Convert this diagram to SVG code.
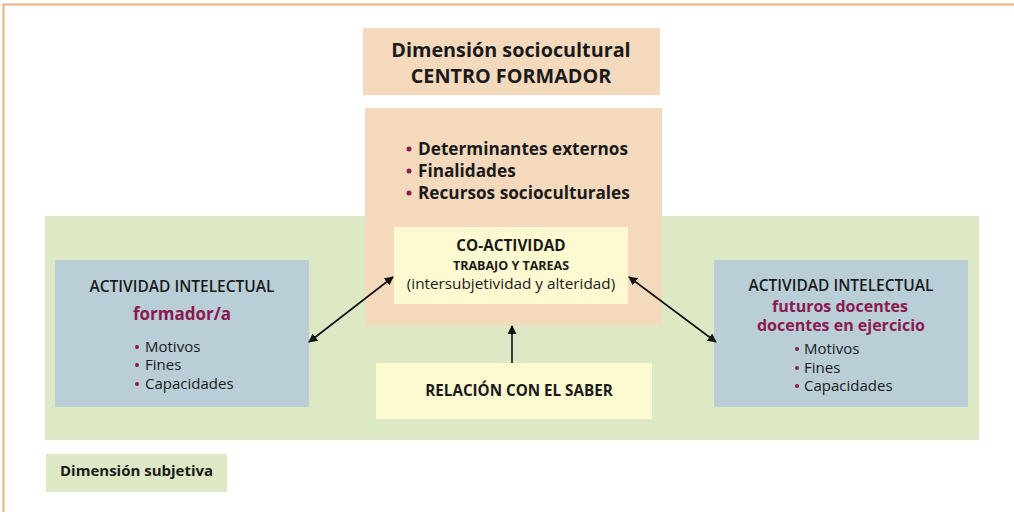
<svg xmlns="http://www.w3.org/2000/svg" width="1014" height="512" viewBox="0 0 1014 512">
<style>
text{font-family:"Open Sans","Noto Sans","Liberation Sans",sans-serif;fill:#1a1a1a}
.b{font-weight:bold}
.s{font-weight:600}
.m{fill:#8b1a50;font-weight:bold}
.dot{fill:#8b1a50}
.c{text-anchor:middle}
.conn{stroke:#111;stroke-width:1.6;fill:none}
</style>
<defs>
<marker id="ah" viewBox="0 0 10 10" refX="9" refY="5" markerWidth="9" markerHeight="9" markerUnits="userSpaceOnUse" orient="auto-start-reverse">
<path d="M0,0 L10,5 L0,10 z" fill="#111"/>
</marker>
</defs>
<rect width="1014" height="512" fill="#fff"/>
<path d="M3.5,512 V4.5 H1014" stroke="#eab084" stroke-width="2" fill="none"/>
<g id="dim-subjetiva-area"><rect x="45" y="216" width="934" height="224" fill="#dde9c5"/></g>
<g id="dim-sociocultural"><rect x="363" y="28" width="297" height="67" fill="#f4d9bc"/>
<text class="b c" x="511" y="57" font-size="19.8">Dimensión sociocultural</text>
<text class="b c" x="511" y="83" font-size="19.8">CENTRO FORMADOR</text></g>
<g id="centro"><rect x="365" y="108" width="297" height="217" fill="#f4d9bc"/>
<circle class="dot" cx="409" cy="149" r="2.5"/><circle class="dot" cx="409" cy="171" r="2.5"/><circle class="dot" cx="409" cy="193" r="2.5"/>
<text class="b" x="418" y="155" font-size="17.2">Determinantes externos</text>
<text class="b" x="418" y="177" font-size="17.2">Finalidades</text>
<text class="b" x="418" y="199" font-size="17.2">Recursos socioculturales</text></g>
<g id="coactividad"><rect x="394" y="227" width="234" height="77" fill="#fdf9d0"/>
<text class="b c" x="511" y="251" font-size="15.3">CO-ACTIVIDAD</text>
<text class="b c" x="511" y="270" font-size="12.5">TRABAJO Y TAREAS</text>
<text class="c" x="511" y="289" font-size="15.3">(intersubjetividad y alteridad)</text></g>
<g id="formador"><rect x="55" y="260" width="254" height="147" fill="#b9ced7"/>
<text class="s c" x="182" y="292" font-size="15.5">ACTIVIDAD INTELECTUAL</text>
<text class="m c" x="182" y="320" font-size="17">formador/a</text>
<circle class="dot" cx="137" cy="347" r="2"/><circle class="dot" cx="137" cy="365" r="2"/><circle class="dot" cx="137" cy="384" r="2"/>
<text x="145" y="352" font-size="15">Motivos</text>
<text x="145" y="370" font-size="15">Fines</text>
<text x="145" y="389" font-size="15">Capacidades</text></g>
<g id="docentes"><rect x="714" y="260" width="254" height="147" fill="#b9ced7"/>
<text class="s c" x="841" y="291" font-size="15.5">ACTIVIDAD INTELECTUAL</text>
<text class="m c" x="840" y="312" font-size="16">futuros docentes</text>
<text class="m c" x="841" y="331" font-size="16">docentes en ejercicio</text>
<circle class="dot" cx="797" cy="349" r="2"/><circle class="dot" cx="797" cy="368" r="2"/><circle class="dot" cx="797" cy="386" r="2"/>
<text x="804" y="354" font-size="15">Motivos</text>
<text x="804" y="373" font-size="15">Fines</text>
<text x="804" y="391" font-size="15">Capacidades</text></g>
<g id="saber"><rect x="376" y="363" width="276" height="56" fill="#fdf9d0"/>
<text class="b c" x="519" y="396" font-size="15.2">RELACIÓN CON EL SABER</text></g>
<g id="dim-subjetiva"><rect x="46" y="454" width="181" height="38" fill="#dde9c5"/>
<text class="b" x="60" y="476" font-size="15">Dimensión subjetiva</text></g>
<g id="connectors">
<line class="conn" x1="393" y1="277" x2="309" y2="342" marker-start="url(#ah)" marker-end="url(#ah)"/>
<line class="conn" x1="629" y1="277" x2="716" y2="342" marker-start="url(#ah)" marker-end="url(#ah)"/>
<line class="conn" x1="512" y1="363" x2="512" y2="326" marker-end="url(#ah)"/>
</g>
</svg>
